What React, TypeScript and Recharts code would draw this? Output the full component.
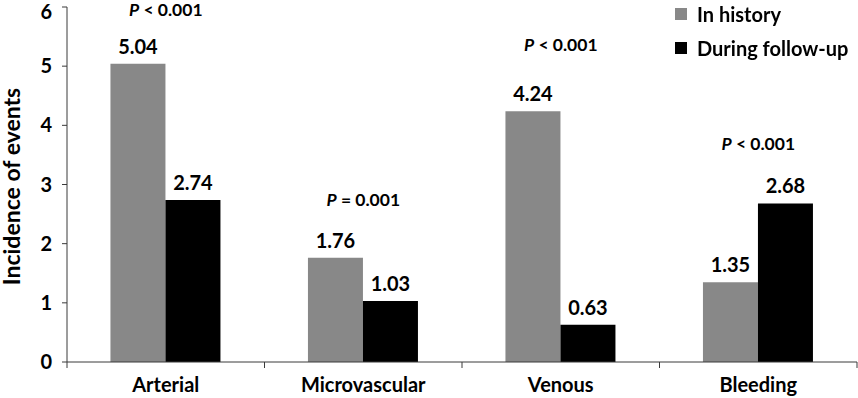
import { BarChart, Bar, XAxis, YAxis, LabelList, ReferenceDot } from 'recharts'

const categories = ['Arterial', 'Microvascular', 'Venous', 'Bleeding']
const inHistory = [5.04, 1.76, 4.24, 1.35]
const duringFollowUp = [2.74, 1.03, 0.63, 2.68]
const pTexts = ['< 0.001', '= 0.001', '< 0.001', '< 0.001']
const pHeights = [5.95, 2.74, 5.36, 3.68]
const yTicks = [0, 1, 2, 3, 4, 5, 6]
const seriesNames = ['In history', 'During follow-up']
const seriesColors = ['#888888', '#000000']

const data = categories.map((name, i) => ({
  name,
  history: inHistory[i],
  followUp: duringFollowUp[i],
}))

const FONT = 'Lato, "Open Sans", sans-serif'
const AXIS = '#3a3a3a'
const TICK_SIZE = 6
const TICK_MARGIN = 10

function XTick(props: any) {
  const { x, y, payload, index, visibleTicksCount } = props
  const half = payload.offset || 98.75
  const axisY = y - TICK_SIZE - TICK_MARGIN
  const isLast = index === (visibleTicksCount ?? categories.length) - 1
  return (
    <g>
      <line x1={x - half} x2={x - half} y1={axisY} y2={axisY + TICK_SIZE} stroke={AXIS} />
      {isLast && <line x1={x + half} x2={x + half} y1={axisY} y2={axisY + TICK_SIZE} stroke={AXIS} />}
      <text x={x} y={y} dy="0.71em" textAnchor="middle" fontFamily={FONT} fontWeight={700} fontSize={20} fill="#000">
        {payload.value}
      </text>
    </g>
  )
}

function PLabel(text: string) {
  return (props: any) => {
    const { viewBox } = props
    const cx = viewBox.x + (viewBox.width || 0) / 2
    const cy = viewBox.y + (viewBox.height || 0) / 2
    return (
      <text x={cx} y={cy} dy="0.35em" textAnchor="middle" fontFamily={FONT} fontWeight={700} fontSize={17.5} fill="#000">
        <tspan fontStyle="italic">P</tspan> {text}
      </text>
    )
  }
}

function YTitle(props: any) {
  const { viewBox } = props
  const cx = viewBox.x + 12
  const cy = viewBox.y + viewBox.height / 2 + 2
  return (
    <text x={cx} y={cy} transform={`rotate(-90 ${cx} ${cy})`} dy="0.35em" textAnchor="middle" fontFamily={FONT} fontWeight={700} fontSize={23} fill="#000">
      Incidence of events
    </text>
  )
}

export default function App() {
  return (
    <div style={{ position: 'fixed', left: 0, top: 0, width: 858, height: 398, background: '#fff' }}>
      <BarChart width={858} height={398} data={data} margin={{ top: 7, right: 1, bottom: 0, left: 0 }} barCategoryGap="22%" barGap={0}>
        <XAxis
          dataKey="name"
          height={36}
          stroke={AXIS}
          tickLine={false}
          tickSize={TICK_SIZE}
          tickMargin={TICK_MARGIN}
          tick={<XTick />}
          interval={0}
        />
        <YAxis
          domain={[0, 6]}
          ticks={yTicks}
          width={67}
          stroke={AXIS}
          tickSize={5}
          tickMargin={10}
          tick={{ fontFamily: FONT, fontWeight: 700, fontSize: 20, fill: '#000' }}
          label={<YTitle />}
        />
        <Bar dataKey="history" name={seriesNames[0]} fill={seriesColors[0]} isAnimationActive={false}>
          <LabelList dataKey="history" position="top" offset={10} formatter={(v: any) => Number(v).toFixed(2)} style={{ fontFamily: FONT, fontWeight: 700, fontSize: 20, fill: '#000' }} />
        </Bar>
        <Bar dataKey="followUp" name={seriesNames[1]} fill={seriesColors[1]} isAnimationActive={false}>
          <LabelList dataKey="followUp" position="top" offset={10} formatter={(v: any) => Number(v).toFixed(2)} style={{ fontFamily: FONT, fontWeight: 700, fontSize: 20, fill: '#000' }} />
        </Bar>
        {categories.map((c, i) => (
          <ReferenceDot key={c} x={c} y={pHeights[i]} r={0} stroke="none" fill="none" ifOverflow="visible" label={PLabel(pTexts[i])} />
        ))}
      </BarChart>
      <div style={{ position: 'absolute', left: 675, top: -3, fontFamily: FONT, fontWeight: 700, fontSize: 20 }}>
        {seriesNames.map((n, i) => (
          <div key={n} style={{ display: 'flex', alignItems: 'center', height: 34 }}>
            <span style={{ width: 12, height: 12, background: seriesColors[i], marginRight: 10, display: 'inline-block' }} />
            <span>{n}</span>
          </div>
        ))}
      </div>
    </div>
  )
}
